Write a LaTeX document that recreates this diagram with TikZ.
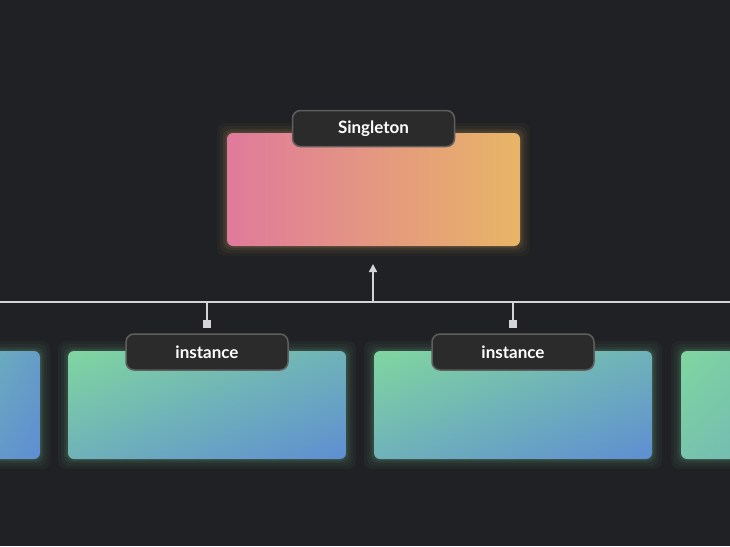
\documentclass[tikz,border=0pt]{standalone}
\usepackage{fontspec}
\setmainfont{Lato}
\usetikzlibrary{arrows.meta,shadings}
\definecolor{bg}{HTML}{202124}
\definecolor{pinkc}{HTML}{E07A9C}
\definecolor{orangec}{HTML}{E8B566}
\definecolor{greenc}{HTML}{80D6A0}
\definecolor{bluec}{HTML}{5E8ED2}
\definecolor{lblfill}{HTML}{2B2B2B}
\definecolor{lblline}{HTML}{5E5E5E}
\definecolor{linec}{HTML}{D4D4D8}
\tikzset{
  lbl/.style={draw=lblline,line width=1.5pt,fill=lblfill,rounded corners=8pt,text=white,font=\fontsize{17}{20}\selectfont\bfseries,minimum width=162pt,minimum height=36pt,inner sep=0pt},
  conn/.style={draw=linec,line width=1.6pt},
  sq/.style={fill=linec,minimum size=8pt,inner sep=0pt}
}
\begin{document}
\begin{tikzpicture}[x=1pt,y=-1pt]
\fill[bg] (0,0) rectangle (730,546);
\useasboundingbox (0,0) rectangle (730,546);
% glows
\foreach \o/\op in {10/0.04,7/0.05,4/0.07,2/0.09}{
  \fill[orangec,opacity=\op,rounded corners=8pt] (227-\o,133-\o) rectangle (520+\o,246+\o);
  \fill[greenc,opacity=\op,rounded corners=8pt] (68-\o,351-\o) rectangle (346+\o,459+\o);
  \fill[greenc,opacity=\op,rounded corners=8pt] (374-\o,351-\o) rectangle (652+\o,459+\o);
  \fill[greenc,opacity=\op,rounded corners=8pt] (-30,351-\o) rectangle (40+\o,459+\o);
  \fill[greenc,opacity=\op,rounded corners=8pt] (681-\o,351-\o) rectangle (760,459+\o);
}
\shade[left color=pinkc,right color=orangec,rounded corners=6pt] (227,133) rectangle (520,246);
\shade[upper left=greenc,lower right=bluec,upper right=greenc!50!bluec,lower left=greenc!50!bluec,rounded corners=6pt] (68,351) rectangle (346,459);
\shade[upper left=greenc,lower right=bluec,upper right=greenc!50!bluec,lower left=greenc!50!bluec,rounded corners=6pt] (374,351) rectangle (652,459);
\shade[upper left=greenc!50!bluec,lower right=bluec,upper right=bluec!80!greenc,lower left=bluec!80!greenc,rounded corners=6pt] (-20,351) rectangle (40,459);
\shade[upper left=greenc,lower right=greenc!60!bluec,upper right=greenc!80!bluec,lower left=greenc!75!bluec,rounded corners=6pt] (681,351) rectangle (760,459);
% connectors
\coordinate (L) at (0,302);
\coordinate (R) at (730,302);
\coordinate (J) at (373,302);
\coordinate (T) at (373,264);
\draw[conn] (L) -- (R);
\draw[conn,-{Triangle[length=8pt,width=8pt]}] (J) -- (T);
\node[sq] (s1) at (207,324) {};
\node[sq] (s2) at (513,324) {};
\coordinate (j1) at (207,302);
\coordinate (j2) at (513,302);
\draw[conn] (j1) -- (s1);
\draw[conn] (j2) -- (s2);
% labels
\node[lbl] (ls) at (373.5,128.5) {Singleton};
\node[lbl] (l1) at (207,352) {instance};
\node[lbl] (l2) at (513,352) {instance};
\end{tikzpicture}
\end{document}
